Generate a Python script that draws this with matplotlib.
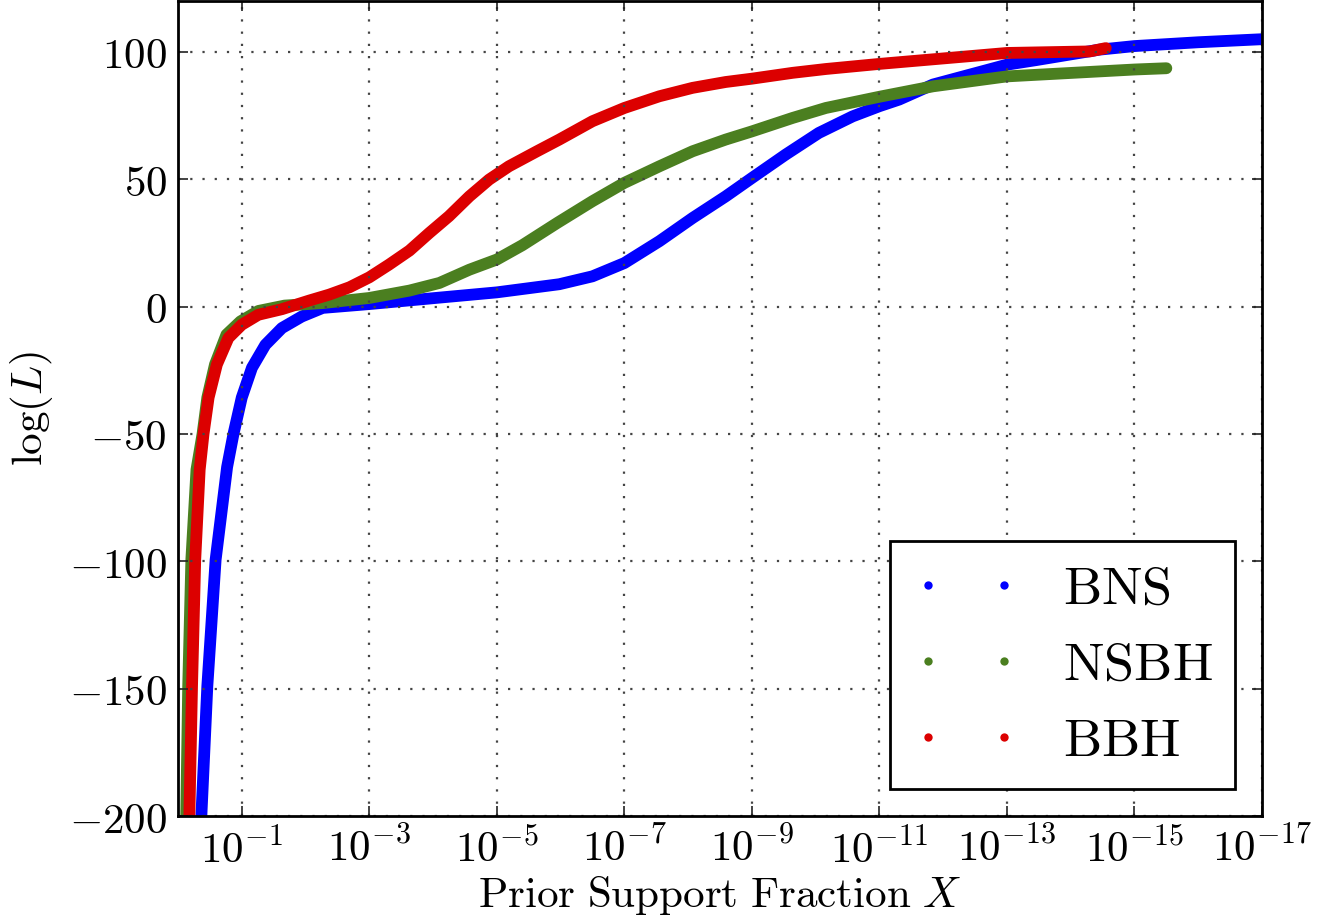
import numpy as np
import matplotlib

matplotlib.use("Agg")
import matplotlib.pyplot as plt

plt.rcParams["mathtext.fontset"] = "cm"

# --- nested-sampling likelihood curves: -log10(X) vs log(L) -------------------
BNS_DEC = [0.35, 0.37, 0.46, 0.59, 0.77, 0.87, 1.0, 1.16, 1.37, 1.63, 1.94,
           2.27, 3.0, 4.04, 5.0, 5.98, 6.5, 7.0, 7.55, 8.07, 8.59, 9.0,
           9.53, 10.05, 10.58, 11.0, 11.31, 11.84, 13.0, 13.46, 14.45,
           15.0, 16.0, 17.0]
BNS_LOGL = [-210, -198, -149, -99.4, -63, -50, -35.7, -24, -15, -8.4, -3.9,
            -0.5, 1.0, 3.4, 5.6, 8.8, 11.9, 17.1, 25.7, 34.8, 43.3, 50.5,
            59.7, 68.2, 74.7, 78.7, 81.3, 87.2, 95.0, 96.8, 100.9,
            102.3, 103.8, 105.0]

NSBH_DEC = [0.125, 0.13, 0.16, 0.21, 0.29, 0.385, 0.46, 0.58, 0.76, 0.98,
            1.26, 1.67, 2.27, 3.0, 3.63, 4.1, 4.57, 5.0, 5.4, 5.95, 6.5,
            7.0, 7.55, 8.07, 8.59, 9.0, 9.64, 10.16, 11.0, 11.84, 13.0,
            15.0, 15.5]
NSBH_LOGL = [-210, -198, -149, -99, -64, -50, -35.7, -22.7, -11, -5.8,
             -1.7, 0.4, 1.4, 3.4, 6.3, 9.3, 14.5, 18.5, 24.1, 32.9, 41.4,
             48.6, 55.1, 61.0, 65.6, 68.8, 74.1, 78.0, 82.4, 86.5, 90.4,
             93.1, 93.6]

BBH_DEC = [0.175, 0.18, 0.22, 0.27, 0.34, 0.40, 0.48, 0.61, 0.79, 1.0, 1.26,
           1.63, 2.06, 2.37, 2.69, 3.0, 3.31, 3.63, 3.94, 4.25, 4.57, 4.88,
           5.19, 5.63, 5.98, 6.5, 7.0, 7.55, 8.07, 8.59, 9.0, 9.64, 10.16,
           11.0, 13.0, 14.3, 14.55]
BBH_LOGL = [-210, -198, -149, -99.4, -64, -50, -35.7, -22.7, -12.3, -7.1,
            -3.2, -1.0, 2.4, 4.7, 7.6, 11.5, 16.5, 22.0, 28.9, 35.5, 43.3,
            49.9, 55.1, 61.0, 65.6, 72.8, 78.0, 82.6, 85.9, 88.2, 89.5,
            91.8, 93.3, 95.3, 99.6, 100.2, 101.5]

SERIES = [
    ("BNS", BNS_DEC, BNS_LOGL, "#0000ff", 2.0),
    ("NSBH", NSBH_DEC, NSBH_LOGL, "#4b7f20", 2.2),
    ("BBH", BBH_DEC, BBH_LOGL, "#dc0000", 2.3),
]

X_TICK_EXP = [-1, -3, -5, -7, -9, -11, -13, -15, -17]
Y_TICKS = [-200, -150, -100, -50, 0, 50, 100]

fig = plt.figure(figsize=(13.44, 9.22), dpi=100)
fig.patch.set_facecolor("white")
ax = fig.add_axes([178 / 1344, 1 - 816 / 922, 1084 / 1344, 815 / 922])

for name, dec, logl, color, z in SERIES:
    xs = np.power(10.0, -np.asarray(dec))
    # thick band for the sample cloud, point markers for the legend entry
    ax.plot(xs, logl, color=color, lw=8.5, solid_capstyle="round",
            solid_joinstyle="round", zorder=z)
    ax.plot(xs, logl, ls="none", marker="o", ms=6, mec="none", mfc=color,
            label=r"$\mathrm{%s}$" % name, zorder=z)

ax.set_xscale("log")
ax.set_xlim(1.0, 1e-17)
ax.set_ylim(-200, 120)
ax.set_xticks([10.0 ** e for e in X_TICK_EXP])
ax.set_xticklabels([r"$10^{%d}$" % e for e in X_TICK_EXP])
ax.xaxis.set_minor_locator(matplotlib.ticker.NullLocator())
ax.set_yticks(Y_TICKS)
ax.set_yticklabels([r"$%d$" % v for v in Y_TICKS])

ax.tick_params(which="major", direction="in", length=7, width=1.2,
               labelsize=31, top=True, right=True, color="#222222")
ax.tick_params(axis="x", pad=9)
ax.tick_params(axis="y", pad=8)

ax.set_axisbelow(False)
ax.grid(True, ls=(0, (1, 4.5)), lw=1.6, color="#444444")
for sp in ax.spines.values():
    sp.set_linewidth(2.0)
    sp.set_color("black")
    sp.set_zorder(5)

ax.set_xlabel(r"$\mathrm{Prior\ Support\ Fraction}\ X$", fontsize=31,
              labelpad=2)
ax.set_ylabel(r"$\log(L)$", fontsize=31, labelpad=10)

leg = ax.legend(loc="lower right", numpoints=2, fontsize=39, frameon=True,
                fancybox=False, framealpha=1.0, borderpad=0.4,
                labelspacing=0.45, handletextpad=0.8, handlelength=2.0)
leg.get_frame().set_edgecolor("black")
leg.get_frame().set_linewidth(2.0)

fig.savefig("out.png", dpi=100, facecolor="white")
